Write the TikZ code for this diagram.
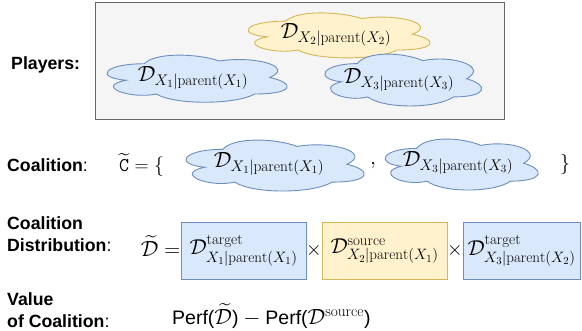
\RequirePackage{fix-cm}
\documentclass[tikz,border=0pt]{standalone}
\usepackage{amsmath}
\usepackage{fontspec}
\newfontfamily\lsans{Liberation Sans}
\definecolor{gfill}{HTML}{F5F5F5}
\definecolor{gdraw}{HTML}{666666}
\definecolor{bfill}{HTML}{DAE8FC}
\definecolor{bdraw}{HTML}{6C8EBF}
\definecolor{yfill}{HTML}{FFF2CC}
\definecolor{ydraw}{HTML}{D6B656}
\newcommand\cloudpath[5]{%
  \path[#1, shift={(#2,#3)}, x=#4pt, y=-#5pt]
   (0.25,0.25) .. controls (0.05,0.25) and (0,0.5) .. (0.16,0.55)
   .. controls (0,0.66) and (0.18,0.9) .. (0.31,0.8)
   .. controls (0.4,1) and (0.7,1) .. (0.8,0.8)
   .. controls (1,0.8) and (1,0.6) .. (0.875,0.5)
   .. controls (1,0.3) and (0.8,0.1) .. (0.625,0.2)
   .. controls (0.5,0.05) and (0.3,0.05) .. (0.25,0.25) -- cycle;}
\newcommand\pf[1]{\mbox{\fontsize{19.5}{21}\selectfont\lsans #1}}
\begin{document}
\begin{tikzpicture}[x=1pt,y=-1pt,
  lbl/.style={inner sep=0pt, font=\fontsize{17.7}{22.5}\selectfont\lsans, align=left},
  mth/.style={inner sep=0pt, font=\fontsize{22}{24}\selectfont},
  bluecloud/.style={fill=bfill, draw=bdraw, line width=0.9pt},
  yellowcloud/.style={fill=yfill, draw=ydraw, line width=0.9pt},
  bluebox/.style={fill=bfill, draw=bdraw, line width=0.9pt, inner sep=0pt, font=\fontsize{21.5}{24}\selectfont},
  yellowbox/.style={fill=yfill, draw=ydraw, line width=0.9pt, inner sep=0pt, font=\fontsize{21.5}{24}\selectfont}]
\useasboundingbox (0,0) rectangle (582,330);
% players frame
\node[fill=gfill, draw=gdraw, line width=1pt, minimum width=409pt, minimum height=117pt, inner sep=0pt] (frame) at (299.5,60.5) {};
\node[lbl, anchor=west] (lplayers) at (11,65) {\bfseries Players:};
% player clouds
\cloudpath{bluecloud}{94}{50}{201}{55}
\node[mth] (p1) at (193,78) {$\mathcal{D}_{X_1|\mathrm{parent}(X_1)}$};
\cloudpath{yellowcloud}{235}{8}{203}{52.5}
\node[mth] (p2) at (336,35) {$\mathcal{D}_{X_2|\mathrm{parent}(X_2)}$};
\cloudpath{bluecloud}{313.5}{48.5}{175}{60.5}
\node[mth] (p3) at (399,80) {$\mathcal{D}_{X_3|\mathrm{parent}(X_3)}$};
% coalition
\node[lbl, anchor=west] (lcoal) at (7,165) {{\bfseries Coalition}:};
\node[mth, anchor=west, font=\fontsize{19.5}{22}\selectfont] (ceq) at (119,165) {$\widetilde{\mathtt{C}}=\{$};
\cloudpath{bluecloud}{173}{134.5}{199}{59.5}
\node[mth] (c1) at (269,164) {$\mathcal{D}_{X_1|\mathrm{parent}(X_1)}$};
\node[mth, anchor=west] (comma) at (370,166) {$,$};
\cloudpath{bluecloud}{374}{133.5}{171}{59.5}
\node[mth] (c2) at (458,163) {$\mathcal{D}_{X_3|\mathrm{parent}(X_3)}$};
\node[mth, anchor=west, font=\fontsize{20}{22}\selectfont] (cbr) at (560,164) {$\}$};
% coalition distribution
\node[lbl, anchor=west] (ldist) at (7,234) {\bfseries Coalition\\{\bfseries Distribution}:};
\node[mth, anchor=east] (deq) at (180.5,246) {$\widetilde{\mathcal{D}}=$};
\node[bluebox, minimum width=125pt, minimum height=57pt] (b1) at (243.5,250.5) {$\mathcal{D}^{\mathrm{target}}_{X_1|\mathrm{parent}(X_1)}$};
\node[mth, font=\fontsize{20}{22}\selectfont] (t1) at (314,250) {$\times$};
\node[yellowbox, minimum width=125pt, minimum height=57pt] (b2) at (384.5,251) {$\mathcal{D}^{\mathrm{source}}_{X_2|\mathrm{parent}(X_1)}$};
\node[mth, font=\fontsize{20}{22}\selectfont] (t2) at (455,250) {$\times$};
\node[bluebox, minimum width=117pt, minimum height=57pt] (b3) at (521.5,251) {$\mathcal{D}^{\mathrm{target}}_{X_3|\mathrm{parent}(X_2)}$};
% value
\node[lbl, anchor=west] (lval) at (7,310) {\bfseries Value\\{\bfseries of Coalition}:};
\node[mth, anchor=west, font=\fontsize{22}{24}\selectfont] (perf) at (172,316) {$\pf{Perf(}\widetilde{\mathcal{D}}\pf{)}-\pf{Perf(}\mathcal{D}^{\mathrm{source}}\pf{)}$};
\end{tikzpicture}
\end{document}
